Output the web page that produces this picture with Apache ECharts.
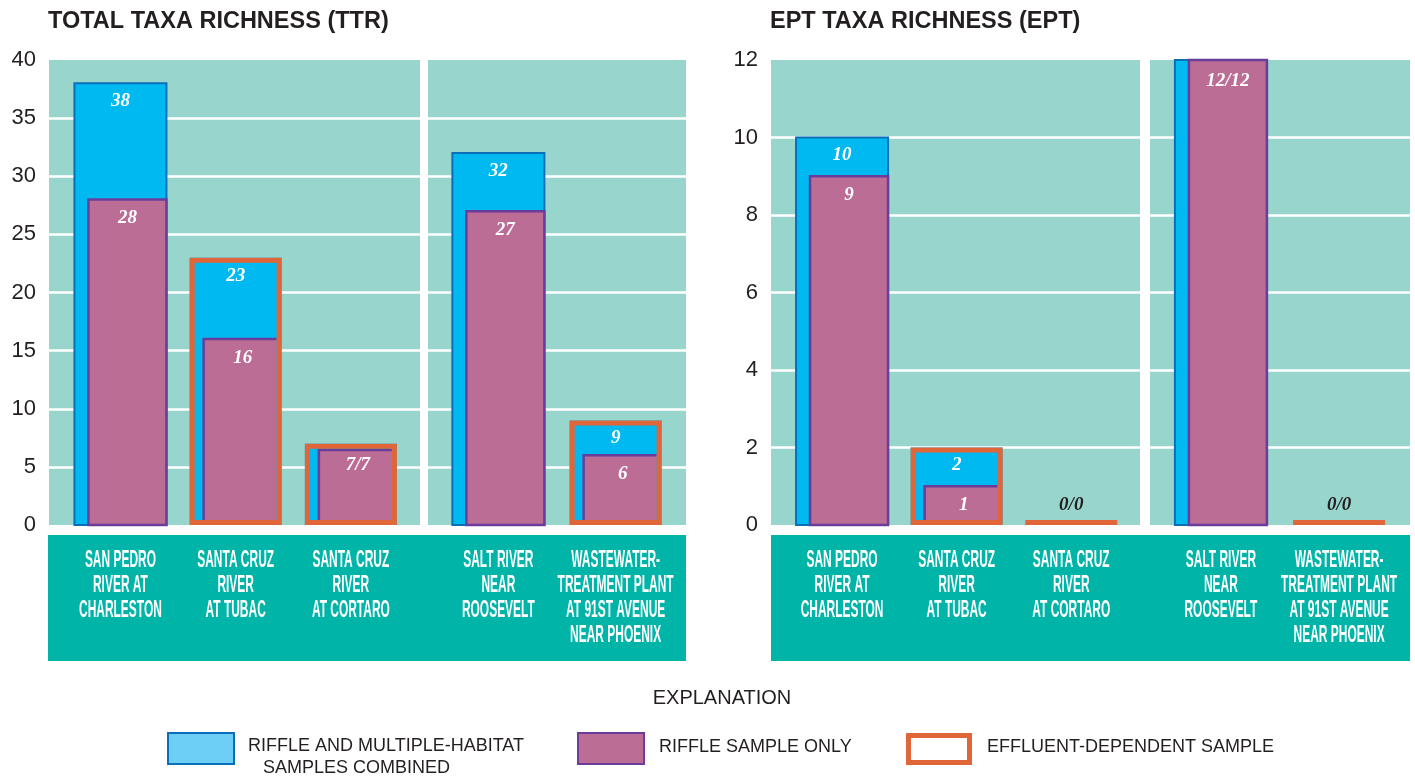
<!DOCTYPE html>
<html>
<head>
<meta charset="utf-8">
<script src="https://cdn.jsdelivr.net/npm/echarts@6/dist/echarts.min.js"></script>
<style>
html,body{margin:0;padding:0;background:#fff;}
#chart{width:1415px;height:776px;}
</style>
</head>
<body>
<div id="chart"></div>
<script>
// ---- data ----
const titleTTR = 'TOTAL TAXA RICHNESS (TTR)';
const titleEPT = 'EPT TAXA RICHNESS (EPT)';
const sitesGroup1 = ['SAN PEDRO\nRIVER AT\nCHARLESTON', 'SANTA CRUZ\nRIVER\nAT TUBAC', 'SANTA CRUZ\nRIVER\nAT CORTARO'];
const sitesGroup2 = ['SALT RIVER\nNEAR\nROOSEVELT', 'WASTEWATER-\nTREATMENT PLANT\nAT 91ST AVENUE\nNEAR PHOENIX'];
const effluentGroup1 = [0, 1, 1];
const effluentGroup2 = [0, 1];
const ttrCombined1 = [38, 23, 7];
const ttrRiffle1 = [28, 16, 7];
const ttrCombined2 = [32, 9];
const ttrRiffle2 = [27, 6];
const eptCombined1 = [10, 2, 0];
const eptRiffle1 = [9, 1, 0];
const eptCombined2 = [12, 0];
const eptRiffle2 = [12, 0];
const ttrAxisMax = 40, ttrAxisStep = 5;
const eptAxisMax = 12, eptAxisStep = 2;
const legendLabels = ['RIFFLE AND MULTIPLE-HABITAT\n   SAMPLES COMBINED', 'RIFFLE SAMPLE ONLY', 'EFFLUENT-DEPENDENT SAMPLE'];
const explanationText = 'EXPLANATION';

// ---- styles ----
const C_TEXT = '#231f20';
const C_PLOT = '#97d5cd';
const C_BOX = '#00b4a7';
const C_BLUE = '#00b9f1';
const C_BLUE_EDGE = '#0a6fb8';
const C_PURPLE = '#bb6d96';
const C_PURPLE_EDGE = '#6a3d9a';
const C_ORANGE = '#e0663a';
const BAR_W = 92, PURPLE_OFF = 14, ORANGE_W = 5;
const VAL_FONT = 'italic bold 19px "Liberation Serif"';
const CAT_FONT = 'bold 23px "Liberation Sans"';

function txt(text, x, y, font, fill, align, valign, extra) {
  return Object.assign({type: 'text', x: x, y: y, z2: 10, style: {
    text: text, x: 0, y: 0, font: font, fill: fill,
    align: align, verticalAlign: valign, textAlign: align, textVerticalAlign: valign
  }}, extra || {});
}

function makeSeries(gridIdx, sites, combined, riffle, eff) {
  const data = combined.map((c, i) => [i, c, riffle[i], eff[i]]);
  return {
    type: 'custom',
    xAxisIndex: gridIdx, yAxisIndex: gridIdx,
    clip: false,
    data: data,
    renderItem: function (params, api) {
      const i = api.value(0), c = api.value(1), r = api.value(2), e = api.value(3);
      const base = api.coord([i, 0]);
      const cx = base[0], y0 = base[1];
      const yC = api.coord([i, c])[1];
      const yR = api.coord([i, r])[1];
      const half = BAR_W / 2;
      const ch = [];
      if (c > 0) {
        ch.push({type: 'rect', z2: 1, shape: {x: cx - half, y: yC, width: BAR_W, height: y0 - yC},
          style: {fill: C_BLUE, stroke: e ? null : C_BLUE_EDGE, lineWidth: 2}});
      }
      if (r > 0) {
        const px = cx - half + PURPLE_OFF;
        if (e) {
          const right = cx + half - ORANGE_W;
          const bottom = y0 - ORANGE_W;
          const top = Math.max(yR, yC + ORANGE_W + 1.25);
          ch.push({type: 'rect', z2: 2, shape: {x: px, y: top, width: right - px, height: bottom - top},
            style: {fill: C_PURPLE}});
          ch.push({type: 'polyline', z2: 2, shape: {points: [[px, bottom], [px, top], [right, top]]},
            style: {fill: null, stroke: C_PURPLE_EDGE, lineWidth: 2.5}});
        } else {
          ch.push({type: 'rect', z2: 2, shape: {x: px, y: yR, width: BAR_W - PURPLE_OFF, height: y0 - yR},
            style: {fill: C_PURPLE, stroke: C_PURPLE_EDGE, lineWidth: 2.5}});
        }
      }
      if (e) {
        if (c > 0) {
          ch.push({type: 'rect', z2: 3, shape: {x: cx - half + ORANGE_W / 2, y: yC + ORANGE_W / 2, width: BAR_W - ORANGE_W, height: y0 - yC - ORANGE_W},
            style: {fill: null, stroke: C_ORANGE, lineWidth: ORANGE_W}});
        } else {
          ch.push({type: 'rect', z2: 3, shape: {x: cx - half, y: y0 - ORANGE_W, width: BAR_W, height: ORANGE_W},
            style: {fill: C_ORANGE}});
        }
      }
      const pc = cx + PURPLE_OFF / 2;
      if (c === 0 && r === 0) {
        ch.push(txt('0/0', cx, y0 - 20, VAL_FONT, C_TEXT, 'center', 'middle'));
      } else if (c === r) {
        ch.push(txt(c + '/' + r, pc, yR + 21, VAL_FONT, '#fff', 'center', 'middle'));
      } else {
        ch.push(txt(String(c), cx, yC + 18, VAL_FONT, '#fff', 'center', 'middle'));
        ch.push(txt(String(r), pc, yR + 19, VAL_FONT, '#fff', 'center', 'middle'));
      }
      const t = txt(sites[i], cx, y0 + 23, CAT_FONT, '#fff', 'center', 'top', {scaleX: 0.52});
      t.style.lineHeight = 25;
      ch.push(t);
      return {type: 'group', children: ch};
    }
  };
}

const grids = [
  {left: 49, top: 60, width: 371, height: 465},
  {left: 428, top: 60, width: 258, height: 465},
  {left: 771, top: 60, width: 369, height: 465},
  {left: 1150, top: 60, width: 260, height: 465}
].map(g => Object.assign(g, {show: true, backgroundColor: C_PLOT, borderWidth: 0, containLabel: false}));

function xAx(gi, lo, hi) {
  return {type: 'value', gridIndex: gi, min: lo, max: hi, show: false};
}
function yAx(gi, max, step, labels) {
  return {
    type: 'value', gridIndex: gi, min: 0, max: max, interval: step,
    axisLine: {show: false}, axisTick: {show: false},
    axisLabel: {show: labels, fontSize: 22, color: C_TEXT, fontFamily: 'Liberation Sans', margin: 13},
    splitLine: {show: true, showMinLine: false, showMaxLine: false, lineStyle: {color: '#ffffff', width: 2.5}}
  };
}

const option = {
  animation: false,
  backgroundColor: '#ffffff',
  grid: grids,
  xAxis: [xAx(0, -0.62, 2.6), xAx(1, -0.6, 1.6), xAx(2, -0.62, 2.6), xAx(3, -0.6, 1.6)],
  yAxis: [
    yAx(0, ttrAxisMax, ttrAxisStep, true),
    yAx(1, ttrAxisMax, ttrAxisStep, false),
    yAx(2, eptAxisMax, eptAxisStep, true),
    yAx(3, eptAxisMax, eptAxisStep, false)
  ],
  graphic: [
    {type: 'rect', left: 48, top: 535, shape: {width: 638, height: 126}, style: {fill: C_BOX}, z: 0},
    {type: 'rect', left: 771, top: 535, shape: {width: 639, height: 126}, style: {fill: C_BOX}, z: 0},
    {type: 'text', x: 48, y: 22, style: {text: titleTTR, font: 'bold 23.5px "Liberation Sans"', fill: C_TEXT, textAlign: 'left', textVerticalAlign: 'middle'}},
    {type: 'text', x: 770, y: 22, style: {text: titleEPT, font: 'bold 23.5px "Liberation Sans"', fill: C_TEXT, textAlign: 'left', textVerticalAlign: 'middle'}},
    {type: 'text', x: 722, y: 698, style: {text: explanationText, font: '20px "Liberation Sans"', fill: C_TEXT, textAlign: 'center', textVerticalAlign: 'middle'}},
    {type: 'rect', shape: {x: 168, y: 733, width: 66, height: 31}, style: {fill: '#6dcff6', stroke: C_BLUE_EDGE, lineWidth: 2}},
    {type: 'text', x: 248, y: 735, style: {text: legendLabels[0], font: '18px "Liberation Sans"', fill: C_TEXT, textAlign: 'left', textVerticalAlign: 'top', lineHeight: 22}},
    {type: 'rect', shape: {x: 578, y: 733, width: 66, height: 31}, style: {fill: C_PURPLE, stroke: C_PURPLE_EDGE, lineWidth: 2}},
    {type: 'text', x: 659, y: 747, style: {text: legendLabels[1], font: '18px "Liberation Sans"', fill: C_TEXT, textAlign: 'left', textVerticalAlign: 'middle'}},
    {type: 'rect', shape: {x: 908.5, y: 735.5, width: 61, height: 27}, style: {fill: '#ffffff', stroke: C_ORANGE, lineWidth: 5}},
    {type: 'text', x: 987, y: 747, style: {text: legendLabels[2], font: '18px "Liberation Sans"', fill: C_TEXT, textAlign: 'left', textVerticalAlign: 'middle'}}
  ],
  series: [
    makeSeries(0, sitesGroup1, ttrCombined1, ttrRiffle1, effluentGroup1),
    makeSeries(1, sitesGroup2, ttrCombined2, ttrRiffle2, effluentGroup2),
    makeSeries(2, sitesGroup1, eptCombined1, eptRiffle1, effluentGroup1),
    makeSeries(3, sitesGroup2, eptCombined2, eptRiffle2, effluentGroup2)
  ]
};

const chart = echarts.init(document.getElementById('chart'), null, {renderer: 'canvas'});
chart.setOption(option);
</script>
</body>
</html>
